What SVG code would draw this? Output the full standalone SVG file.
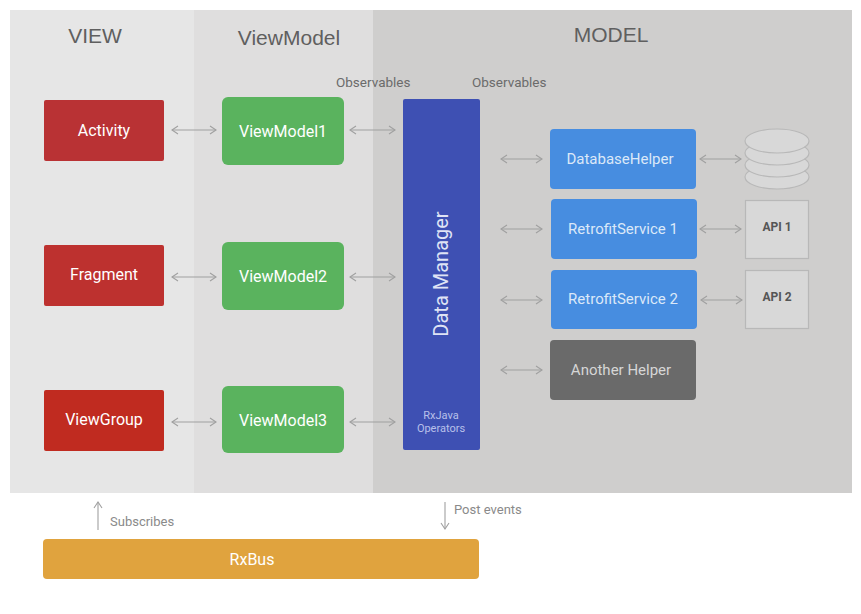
<svg xmlns="http://www.w3.org/2000/svg" width="861" height="614" viewBox="0 0 861 614">
<defs>
<marker id="ah" viewBox="0 0 10 10" refX="9" refY="5" markerWidth="10" markerHeight="10" markerUnits="userSpaceOnUse" orient="auto-start-reverse">
<polyline points="3,1 9,5 3,9" fill="none" stroke="#a0a0a0" stroke-width="1.1"/>
</marker>
<style>
.lbl{font-family:Roboto,"Liberation Sans",sans-serif;font-size:16px;fill:#ffffff;text-anchor:middle}
.hdr{font-family:"Liberation Sans",Roboto,sans-serif;font-size:21px;fill:#5f5f5f;text-anchor:middle}
.sm{font-family:Roboto,"Liberation Sans",sans-serif;font-size:13.5px;fill:#6b6b6b}
.cn{stroke:#a0a0a0;stroke-width:1.1;fill:none;marker-start:url(#ah);marker-end:url(#ah)}
.one{stroke:#a0a0a0;stroke-width:1.1;fill:none;marker-end:url(#ah)}
.red{fill:#bd312f}
.green{fill:#5ab35e}
.blue{fill:#478de0}
</style>
</defs>
<g id="background">
<rect x="10" y="10" width="184" height="483" fill="#e6e6e6"/>
<rect x="194" y="10" width="179" height="483" fill="#dfdede"/>
<rect x="373" y="10" width="479" height="483" fill="#cfcecd"/>
<text class="hdr" x="95" y="43">VIEW</text>
<text class="hdr" x="289" y="45">ViewModel</text>
<text class="hdr" x="611" y="42">MODEL</text>
<text class="sm" x="336" y="87">Observables</text>
<text class="sm" x="472" y="87">Observables</text>
</g>
<g id="activity"><rect x="44" y="100" width="120" height="61" rx="2" fill="#b93234"/><text class="lbl" x="104" y="136">Activity</text></g>
<g id="fragment"><rect class="red" x="44" y="245" width="120" height="61" rx="2"/><text class="lbl" x="104" y="280">Fragment</text></g>
<g id="viewgroup"><rect x="44" y="390" width="120" height="61" rx="2" fill="#c02b20"/><text class="lbl" x="104" y="425">ViewGroup</text></g>
<g id="viewmodel1"><rect class="green" x="222" y="97" width="122" height="68" rx="6"/><text class="lbl" x="283" y="137">ViewModel1</text></g>
<g id="viewmodel2"><rect class="green" x="222" y="242" width="122" height="68" rx="6"/><text class="lbl" x="283" y="282">ViewModel2</text></g>
<g id="viewmodel3"><rect class="green" x="222" y="386" width="122" height="67" rx="6"/><text class="lbl" x="283" y="426">ViewModel3</text></g>
<g id="datamanager"><rect x="403" y="99" width="77" height="351" rx="2" fill="#3e50b3"/>
<text x="441" y="274" transform="rotate(-90 441 274)" style="font-family:Roboto,'Liberation Sans',sans-serif;font-size:20px;fill:#dfe3f5;text-anchor:middle" dy="7">Data Manager</text>
<text x="441" y="419" style="font-family:Roboto,'Liberation Sans',sans-serif;font-size:11px;fill:#b8c0ea;text-anchor:middle">RxJava</text>
<text x="441" y="432" style="font-family:Roboto,'Liberation Sans',sans-serif;font-size:11px;fill:#b8c0ea;text-anchor:middle">Operators</text>
</g>
<g id="databasehelper"><rect class="blue" x="550" y="129" width="146" height="60" rx="4"/><text class="lbl" x="620" y="164" style="fill:#dbe8f8;font-size:15px">DatabaseHelper</text></g>
<g id="retrofit1"><rect class="blue" x="551" y="199" width="146" height="60" rx="4"/><text class="lbl" x="623" y="234" style="fill:#dbe8f8;font-size:15px">RetrofitService 1</text></g>
<g id="retrofit2"><rect class="blue" x="551" y="270" width="146" height="59" rx="4"/><text class="lbl" x="623" y="304" style="fill:#dbe8f8;font-size:15px">RetrofitService 2</text></g>
<g id="anotherhelper"><rect x="550" y="340" width="146" height="60" rx="4" fill="#6a6a6a"/><text class="lbl" x="621" y="375" style="fill:#d6d6d6;font-size:15px">Another Helper</text></g>
<g id="database">
<ellipse cx="777" cy="177" rx="32" ry="12" fill="#d8d8d8" stroke="#b8b8b8" stroke-width="1.2"/>
<ellipse cx="777" cy="165" rx="32" ry="12" fill="#d8d8d8" stroke="#b8b8b8" stroke-width="1.2"/>
<ellipse cx="777" cy="153" rx="32" ry="12" fill="#d8d8d8" stroke="#b8b8b8" stroke-width="1.2"/>
<ellipse cx="777" cy="141" rx="32" ry="12" fill="#d8d8d8" stroke="#b8b8b8" stroke-width="1.2"/>
</g>
<g id="api1"><rect x="745.5" y="200.5" width="63" height="58" fill="#d8d8d8" stroke="#b8b8b8" stroke-width="1.2"/><text x="777" y="231" style="font-family:Roboto,'Liberation Sans',sans-serif;font-size:12px;font-weight:bold;fill:#555;text-anchor:middle">API 1</text></g>
<g id="api2"><rect x="745.5" y="270.5" width="63" height="58" fill="#d8d8d8" stroke="#b8b8b8" stroke-width="1.2"/><text x="777" y="301" style="font-family:Roboto,'Liberation Sans',sans-serif;font-size:12px;font-weight:bold;fill:#555;text-anchor:middle">API 2</text></g>
<g id="rxbus"><rect x="43" y="539" width="436" height="40" rx="4" fill="#e0a33e"/><text class="lbl" x="252" y="565">RxBus</text></g>
<g id="connectors">
<line class="cn" x1="172" y1="130" x2="216" y2="130"/>
<line class="cn" x1="172" y1="277" x2="216" y2="277"/>
<line class="cn" x1="172" y1="422" x2="216" y2="422"/>
<line class="cn" x1="350" y1="130" x2="395" y2="130"/>
<line class="cn" x1="350" y1="277" x2="395" y2="277"/>
<line class="cn" x1="350" y1="422" x2="395" y2="422"/>
<line class="cn" x1="501" y1="159" x2="542" y2="159"/>
<line class="cn" x1="501" y1="229" x2="542" y2="229"/>
<line class="cn" x1="501" y1="300" x2="542" y2="300"/>
<line class="cn" x1="501" y1="370" x2="542" y2="370"/>
<line class="cn" x1="700" y1="159" x2="741" y2="159"/>
<line class="cn" x1="700" y1="229" x2="741" y2="229"/>
<line class="cn" x1="701" y1="300" x2="742" y2="300"/>
<line class="one" x1="98" y1="530" x2="98" y2="502"/>
<line class="one" x1="445" y1="502" x2="445" y2="529"/>
<text class="sm" x="110" y="526" style="fill:#8a8a8a;font-size:13px">Subscribes</text>
<text class="sm" x="454" y="514" style="fill:#8a8a8a;font-size:13px">Post events</text>
</g>
</svg>
